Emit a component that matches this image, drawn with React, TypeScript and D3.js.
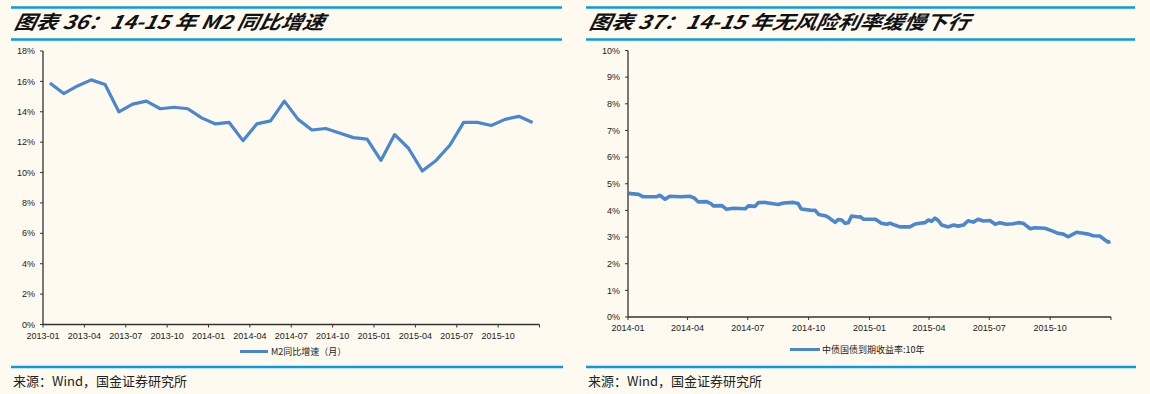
import React from "react";
import * as d3 from "d3";

const m2Months = [
  "2013-01","2013-02","2013-03","2013-04","2013-05","2013-06","2013-07","2013-08","2013-09","2013-10","2013-11","2013-12",
  "2014-01","2014-02","2014-03","2014-04","2014-05","2014-06","2014-07","2014-08","2014-09","2014-10","2014-11","2014-12",
  "2015-01","2015-02","2015-03","2015-04","2015-05","2015-06","2015-07","2015-08","2015-09","2015-10","2015-11","2015-12",
];
const m2Values = [
  15.9, 15.2, 15.7, 16.1, 15.8, 14.0, 14.5, 14.7, 14.2, 14.3, 14.2, 13.6,
  13.2, 13.3, 12.1, 13.2, 13.4, 14.7, 13.5, 12.8, 12.9, 12.6, 12.3, 12.2,
  10.8, 12.5, 11.6, 10.1, 10.8, 11.8, 13.3, 13.3, 13.1, 13.5, 13.7, 13.3,
];
const m2TickLabels = ["2013-01","2013-04","2013-07","2013-10","2014-01","2014-04","2014-07","2014-10","2015-01","2015-04","2015-07","2015-10"];
const m2YTicks = [0, 2, 4, 6, 8, 10, 12, 14, 16, 18];

const bondDates = [
  "2014-01-02","2014-01-17","2014-01-24","2014-02-13","2014-02-18","2014-02-26","2014-03-05","2014-03-21","2014-04-05","2014-04-12",
  "2014-04-17","2014-04-30","2014-05-07","2014-05-10","2014-05-23","2014-05-30","2014-06-09","2014-06-27","2014-07-02","2014-07-12",
  "2014-07-17","2014-07-27","2014-08-06","2014-08-16","2014-08-24","2014-09-08","2014-09-15","2014-09-20","2014-10-03","2014-10-11",
  "2014-10-16","2014-10-26","2014-10-31","2014-11-10","2014-11-15","2014-11-20","2014-11-25","2014-11-30","2014-12-05","2014-12-15",
  "2014-12-18","2014-12-23","2015-01-10","2015-01-19","2015-01-27","2015-02-01","2015-02-08","2015-02-16","2015-03-03","2015-03-11",
  "2015-03-18","2015-03-26","2015-03-31","2015-04-05","2015-04-10","2015-04-15","2015-04-20","2015-04-30","2015-05-08","2015-05-15",
  "2015-05-23","2015-05-30","2015-06-07","2015-06-14","2015-06-22","2015-07-02","2015-07-10","2015-07-17","2015-07-27","2015-08-06",
  "2015-08-14","2015-08-21","2015-09-01","2015-09-08","2015-09-23","2015-10-03","2015-10-13","2015-10-21","2015-10-28","2015-11-10",
  "2015-11-20","2015-11-28","2015-12-05","2015-12-15","2015-12-23","2015-12-28","2015-12-31",
];
const bondValues = [
  4.64, 4.60, 4.51, 4.51, 4.57, 4.42, 4.53, 4.51, 4.53, 4.45,
  4.32, 4.33, 4.24, 4.17, 4.18, 4.04, 4.08, 4.06, 4.17, 4.15,
  4.29, 4.30, 4.26, 4.22, 4.28, 4.30, 4.26, 4.05, 4.01, 4.00,
  3.85, 3.80, 3.74, 3.55, 3.66, 3.64, 3.52, 3.54, 3.79, 3.75,
  3.76, 3.67, 3.67, 3.52, 3.48, 3.52, 3.45, 3.38, 3.38, 3.49,
  3.52, 3.54, 3.64, 3.59, 3.71, 3.62, 3.45, 3.38, 3.45, 3.41,
  3.45, 3.61, 3.56, 3.67, 3.60, 3.62, 3.48, 3.54, 3.48, 3.50,
  3.54, 3.52, 3.31, 3.35, 3.33, 3.24, 3.14, 3.11, 3.01, 3.18,
  3.14, 3.11, 3.05, 3.04, 2.89, 2.81, 2.84,
];
const bondTickLabels = ["2014-01","2014-04","2014-07","2014-10","2015-01","2015-04","2015-07","2015-10"];
const bondYTicks = [0, 1, 2, 3, 4, 5, 6, 7, 8, 9, 10];

const BG = "#FEFAF0";
const BLUE_RULE = "#0A9BDC";
const LINE = "#4B87CF";
const AXIS = "#333333";
const FONT = "'Liberation Sans', Arial, sans-serif";
const CJK = "'Noto Sans CJK SC', sans-serif";

function LeftChart() {
  const x = d3.scaleBand<string>().domain(m2Months).range([43, 539.5]).padding(0);
  const y = d3.scaleLinear().domain([0, 18]).range([324.5, 51]);
  const line = d3
    .line<number>()
    .x((_, i) => (x(m2Months[i]) as number) + x.bandwidth() / 2)
    .y((d) => y(d));
  const x0 = x.range()[0];
  const x1 = x.range()[1];
  return (
    <g>
      <path d={line(m2Values) || ""} fill="none" stroke={LINE} strokeWidth={3.2} strokeLinejoin="round" />
      <line x1={x0} x2={x0} y1={y(18)} y2={y(0)} stroke={AXIS} strokeWidth={1.3} />
      <line x1={x0} x2={x1} y1={y(0)} y2={y(0)} stroke={AXIS} strokeWidth={1.3} />
      {m2YTicks.map((t) => (
        <g key={t}>
          <line x1={x0 - 3} x2={x0} y1={y(t)} y2={y(t)} stroke={AXIS} strokeWidth={1} />
          <text x={x0 - 8} y={y(t)} dy="0.35em" textAnchor="end" fontSize={9} fontFamily={FONT} fill="#222">
            {t}%
          </text>
        </g>
      ))}
      {m2TickLabels.map((m) => {
        const px = x(m) as number;
        return (
          <g key={m}>
            <line x1={px} x2={px} y1={y(0)} y2={y(0) + 3} stroke={AXIS} strokeWidth={1} />
            <text x={px} y={y(0) + 14} textAnchor="middle" fontSize={9} fontFamily={FONT} fill="#222">
              {m}
            </text>
          </g>
        );
      })}
      <line x1={x1} x2={x1} y1={y(0)} y2={y(0) + 3} stroke={AXIS} strokeWidth={1} />
      <line x1={240} x2={268} y1={351.5} y2={351.5} stroke={LINE} strokeWidth={3} />
      <text x={271} y={355} fontSize={9} fontFamily={CJK} fill="#222">
        M2同比增速（月）
      </text>
    </g>
  );
}

function RightChart() {
  const parse = d3.timeParse("%Y-%m-%d");
  const dates = bondDates.map((d) => parse(d) as Date);
  const x = d3.scaleTime().domain([new Date(2014, 0, 1), new Date(2016, 0, 1)]).range([628, 1111]);
  const y = d3.scaleLinear().domain([0, 10]).range([317, 50.5]);
  const line = d3
    .line<number>()
    .x((_, i) => x(dates[i]))
    .y((d) => y(d));
  const x0 = x.range()[0];
  const x1 = x.range()[1];
  const ticks = bondTickLabels.map((s) => d3.timeParse("%Y-%m")(s) as Date);
  return (
    <g>
      <path d={line(bondValues) || ""} fill="none" stroke={LINE} strokeWidth={3.6} strokeLinejoin="round" />
      <line x1={x0} x2={x0} y1={y(10)} y2={y(0)} stroke={AXIS} strokeWidth={1.3} />
      <line x1={x0} x2={x1} y1={y(0)} y2={y(0)} stroke={AXIS} strokeWidth={1.3} />
      {bondYTicks.map((t) => (
        <g key={t}>
          <line x1={x0 - 3} x2={x0} y1={y(t)} y2={y(t)} stroke={AXIS} strokeWidth={1} />
          <text x={x0 - 8} y={y(t)} dy="0.35em" textAnchor="end" fontSize={9} fontFamily={FONT} fill="#222">
            {t}%
          </text>
        </g>
      ))}
      {ticks.map((d, i) => {
        const px = x(d);
        return (
          <g key={i}>
            <line x1={px} x2={px} y1={y(0)} y2={y(0) + 3} stroke={AXIS} strokeWidth={1} />
            <text x={px} y={y(0) + 14} textAnchor="middle" fontSize={9} fontFamily={FONT} fill="#222">
              {bondTickLabels[i]}
            </text>
          </g>
        );
      })}
      <line x1={x1} x2={x1} y1={y(0)} y2={y(0) + 3} stroke={AXIS} strokeWidth={1} />
      <line x1={790} x2={820} y1={349.5} y2={349.5} stroke={LINE} strokeWidth={3} />
      <text x={822} y={353} fontSize={9} fontFamily={CJK} fill="#222">
        中债国债到期收益率:10年
      </text>
    </g>
  );
}

function Frame({ x0, x1, title, titleWidth }: { x0: number; x1: number; title: string; titleWidth: number }) {
  return (
    <g>
      <line x1={x0} x2={x1} y1={7.5} y2={7.5} stroke={BLUE_RULE} strokeWidth={2.5} />
      <line x1={x0} x2={x1} y1={39.5} y2={39.5} stroke={BLUE_RULE} strokeWidth={2.5} />
      <text
        x={x0 + 4}
        y={29.5}
        fontSize={19}
        fontWeight="bold"
        fontStyle="italic"
        fontFamily={CJK}
        fill="#111"
        textLength={titleWidth}
        lengthAdjust="spacingAndGlyphs"
        style={{ transform: "skewX(-12deg)", transformBox: "fill-box", transformOrigin: "center" }}
      >
        {title}
      </text>
      <line x1={x0} x2={x1 + 1} y1={367} y2={367} stroke={BLUE_RULE} strokeWidth={2.5} />
      <text x={x0 + 2} y={386} fontSize={13} fontFamily={CJK} fill="#222">
        来源：Wind，国金证券研究所
      </text>
    </g>
  );
}

export default function App() {
  return (
    <svg
      width={1150}
      height={394}
      style={{ position: "absolute", left: 0, top: 0, background: BG }}
    >
      <rect x={0} y={0} width={1150} height={394} fill={BG} />
      <Frame x0={11} x1={562} title="图表 36：14-15 年 M2 同比增速" titleWidth={310} />
      <Frame x0={586} x1={1135} title="图表 37：14-15 年无风险利率缓慢下行" titleWidth={380} />
      <LeftChart />
      <RightChart />
    </svg>
  );
}
